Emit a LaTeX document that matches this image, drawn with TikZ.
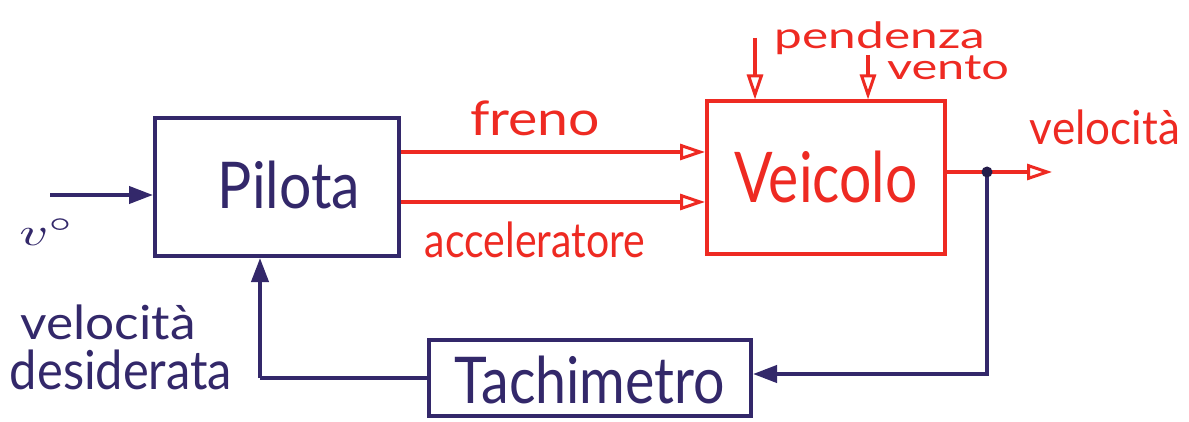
\documentclass[tikz,border=0pt]{standalone}
\usepackage{fontspec}
\setmainfont{Lato}
\usetikzlibrary{arrows.meta}
\definecolor{ink}{HTML}{33286A}
\definecolor{pen}{HTML}{EE2A22}
\tikzset{
  block/.style={draw, line width=4pt, rectangle, inner sep=0pt},
  wire/.style={line width=4pt},
  solidtip/.style={-{Triangle[length=24pt,width=17pt]}},
  opentip/.style={-{Triangle[open,length=25pt,width=16pt,line width=3pt]}},
  lbl/.style={inner sep=0pt},
}
% text set to a given width and total height
\newcommand{\wtext}[3]{\resizebox*{#1pt}{#2pt}{#3}}
\begin{document}
\begin{tikzpicture}[x=1pt,y=-1pt]
  \useasboundingbox[fill=white] (0,0) rectangle (1189,422);

  % blocks
  \node[block, ink, minimum width=244pt, minimum height=138pt] (pilota) at (277,187) {};
  \node[block, pen, minimum width=238pt, minimum height=153pt] (veicolo) at (826,178) {};
  \node[block, ink, minimum width=322pt, minimum height=76pt] (tach) at (590,378) {};

  % block titles
  \node[lbl, ink] (tpilota) at (289,185) {\wtext{142}{48}{Pilota}};
  \node[lbl, pen] (tveicolo) at (826,177) {\wtext{183}{52}{Veicolo}};
  \node[lbl, ink] (ttach) at (590,380) {\wtext{270}{48}{Tachimetro}};

  % free ends
  \coordinate (vin) at (50,195);
  \coordinate (pin) at (755,38);
  \coordinate (win) at (868,55);
  \coordinate (vout) at (1052,172);
  \coordinate (branch) at (987,172);
  \coordinate (fbcorner) at (987,374);
  \coordinate (fbleft) at (260,378);

  % reference speed
  \draw[wire, ink, solidtip] (vin) -- (vin -| pilota.west);

  % commands to the vehicle
  \draw[wire, pen, opentip] (pilota.east |- 0,152) -- (veicolo.west |- 0,152);
  \draw[wire, pen, opentip] (pilota.east |- 0,202) -- (veicolo.west |- 0,202);

  % disturbances
  \draw[wire, pen, opentip] (pin) -- (pin |- veicolo.north);
  \draw[wire, pen, opentip] (win) -- (win |- veicolo.north);

  % output speed
  \draw[wire, pen] (veicolo.east |- branch) -- (branch);
  \draw[wire, pen, opentip] (branch) -- (vout);

  % feedback loop
  \draw[wire, ink, solidtip] (branch) -- (fbcorner) -- (fbcorner -| tach.east);
  \draw[wire, ink] (tach.west |- fbleft) -- (fbleft);
  \draw[wire, ink, solidtip] (fbleft) -- (fbleft |- pilota.south);
  \fill[ink!70!black] (branch) circle (5.5pt);

  % labels
  \node[lbl, ink] (lv0) at (47,232) {\wtext{55}{27}{$v^{\circ}$}};
  \node[lbl, ink] (lvel) at (108,322) {\wtext{175}{35}{velocità}};
  \node[lbl, ink] (ldes) at (121,370) {\wtext{222}{40}{desiderata}};
  \node[lbl, pen] (lfreno) at (535,118) {\wtext{130}{35}{freno}};
  \node[lbl, pen] (lacc) at (535,240) {\wtext{220}{36}{acceleratore}};
  \node[lbl, pen] (lpend) at (880,38) {\wtext{210}{33}{pendenza}};
  \node[lbl, pen] (lvento) at (948,68) {\wtext{122}{24}{vento}};
  \node[lbl, pen] (lvout) at (1105,127) {\wtext{150}{35}{velocità}};
\end{tikzpicture}
\end{document}
